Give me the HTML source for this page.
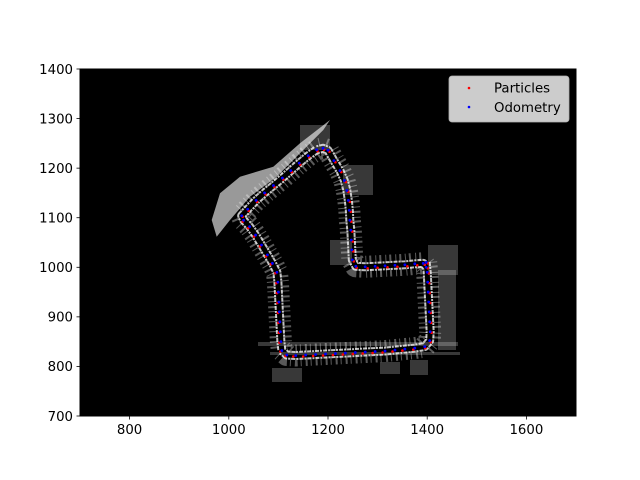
<!DOCTYPE html>
<html><head><meta charset="utf-8"><style>
html,body{margin:0;padding:0;background:#fff;}
svg{display:block;font-family:"DejaVu Sans","Liberation Sans",sans-serif;}
</style></head><body>
<svg id="chart" width="640" height="480" viewBox="0 0 640 480">
<rect x="0" y="0" width="640" height="480" fill="#fff"/>
<rect x="80" y="69" width="496" height="347" fill="#000"/>
<g id="map"></g>
<g id="marks"></g>
<rect x="80" y="69" width="496" height="347" fill="none" stroke="#000" stroke-width="1"/>
<g id="xticks"></g>
<g id="yticks"></g>
<g>
<rect x="449" y="76" width="120" height="46" rx="3" fill="#cccccc" stroke="#b0b0b0" stroke-width="0.8"/>
<circle cx="469" cy="88" r="1.3" fill="#ff0000"/>
<text x="494" y="92.5" font-size="13.3" fill="#000">Particles</text>
<circle cx="469" cy="107" r="1.3" fill="#0000ff"/>
<text x="494" y="112" font-size="13.3" fill="#000">Odometry</text>
</g>
</svg>
<script>
const xTicks=[800,1000,1200,1400,1600];
const yTicks=[700,800,900,1000,1100,1200,1300,1400];
const odoX=[1398,1400,1401,1402,1403,1404,1405,1406,1405,1395,1375,1355,1335,1315,1295,1275,1255,1235,1215,1195,1175,1155,1135,1117,1107,1105,1104,1103,1102,1101,1100,1099,1097,1088,1078,1066,1054,1042,1030,1026,1038,1055,1072,1090,1108,1125,1142,1160,1177,1190,1200,1212,1224,1233,1238,1241,1243,1244,1246,1247,1248,1249,1256,1275,1295,1315,1335,1355,1375,1392,1398];
const odoY=[1010,990,970,950,930,910,890,870,852,840,837,835,833,831,830,829,828,827,826,825,824,823,822,823,832,850,870,890,910,930,950,970,990,1008,1025,1045,1065,1082,1095,1104,1117,1135,1150,1165,1180,1195,1210,1225,1237,1240,1236,1215,1195,1175,1155,1135,1115,1095,1075,1055,1035,1015,1002,1001,1002,1003,1004,1005,1007,1008,1000];
const partX=[1401,1403,1404,1405,1406,1407,1408,1409,1407,1396,1372,1350,1330,1310,1290,1270,1250,1230,1210,1190,1170,1150,1130,1114,1104,1102,1101,1100,1099,1098,1097,1096,1094,1085,1075,1063,1051,1039,1028,1028,1040,1057,1074,1092,1110,1127,1144,1162,1179,1192,1203,1215,1227,1236,1241,1244,1246,1247,1249,1250,1251,1252,1258,1280,1300,1320,1340,1360,1380,1395,1401];
const partY=[1008,988,968,948,928,908,888,868,849,837,834,832,830,828,827,826,825,824,823,822,821,820,820,821,830,848,868,888,908,928,948,968,988,1006,1022,1042,1062,1079,1092,1102,1114,1132,1147,1162,1177,1192,1207,1222,1234,1237,1233,1212,1192,1172,1152,1132,1112,1092,1072,1052,1032,1012,999,998,999,1000,1001,1002,1004,1005,998];
const NS='http://www.w3.org/2000/svg';
const xs=v=>80+(v-700)*496/1000;
const ys=v=>416-(v-700)*347/700;
function el(t,a,p){const e=document.createElementNS(NS,t);for(const k in a)e.setAttribute(k,a[k]);p.appendChild(e);return e;}
const map=document.getElementById('map');
let d='';for(let i=0;i<odoX.length;i++)d+=(i?'L':'M')+xs(odoX[i])+' '+ys(odoY[i]);
let w1=el('path',{d:d,fill:'none',stroke:'#fff','stroke-width':22,'stroke-linejoin':'round','stroke-dasharray':'1 3 2 4',opacity:0.35},map);


let w2=el('path',{d:d,fill:'none',stroke:'#fff','stroke-width':9,'stroke-linejoin':'round','stroke-dasharray':'4 1 2 1',opacity:0.75},map);


let w3=el('path',{d:d,fill:'none',stroke:'#000','stroke-width':5,'stroke-linejoin':'round'},map);


let blob=el('polygon',{points:'211.7,220 220,193.3 240,176.7 273.3,166.7 300,143.3 330,120 323.3,130 300,153.3 276.7,176.7 250,196.7 230,220 216.7,236.7',fill:'#fff',opacity:0.6},map);


const deco=[[258,342,200,4],[270,352,190,3],[272,368,30,14],[380,362,20,12],[428,245,30,30],[438,270,18,80],[330,240,22,25],[300,125,30,25],[343,165,30,30],[410,360,18,15]];
deco.forEach(r=>{const e=el('rect',{x:r[0],y:r[1],width:r[2],height:r[3],fill:'#fff',opacity:0.22},map);

});
const marks=document.getElementById('marks');
for(let i=0;i<partX.length;i++){const c=el('circle',{cx:xs(partX[i]),cy:ys(partY[i]),r:1.3,fill:'#ff0000'},marks);

}
for(let i=0;i<odoX.length;i++){const c=el('circle',{cx:xs(odoX[i]),cy:ys(odoY[i]),r:1.4,fill:'#0000ff'},marks);

}
const xg=document.getElementById('xticks'),yg=document.getElementById('yticks');
xTicks.forEach(v=>{const x=xs(v);
const l=el('line',{x1:x,y1:416,x2:x,y2:419.5,stroke:'#000','stroke-width':0.8},xg);


const t=el('text',{x:x,y:434,'font-size':13.3,'text-anchor':'middle',fill:'#000'},xg);t.textContent=v;

});
yTicks.forEach(v=>{const y=ys(v);
const l=el('line',{x1:76.5,y1:y,x2:80,y2:y,stroke:'#000','stroke-width':0.8},yg);


const t=el('text',{x:73,y:y+4.8,'font-size':13.3,'text-anchor':'end',fill:'#000'},yg);t.textContent=v;

});
</script>
</body></html>
